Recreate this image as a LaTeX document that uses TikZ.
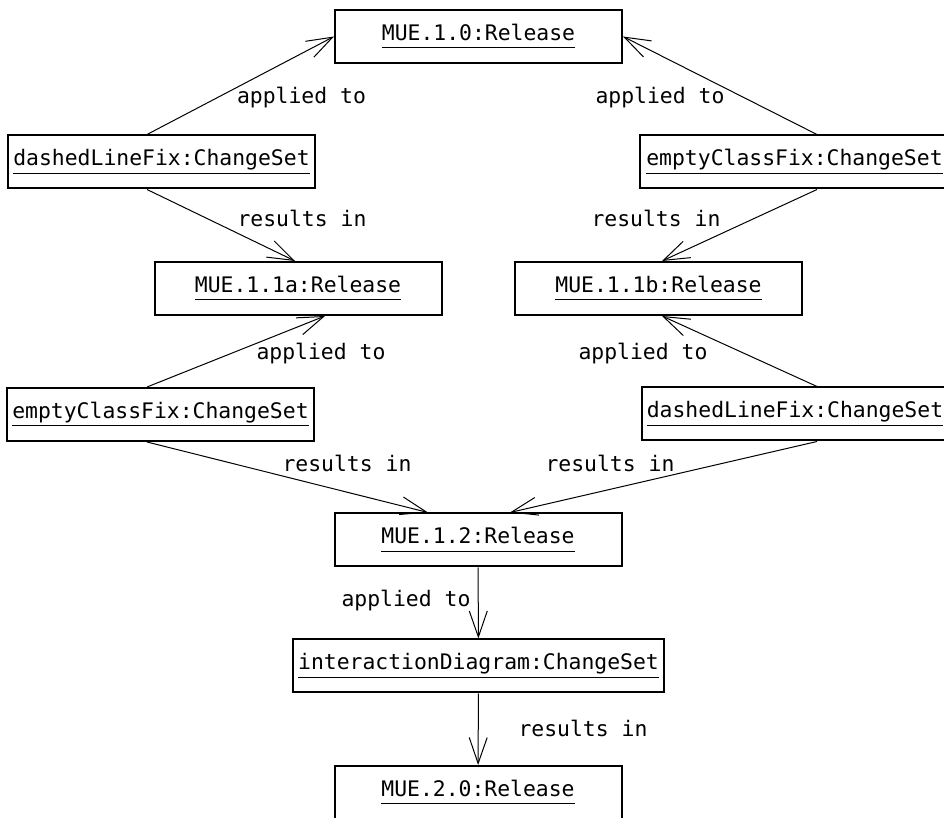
\documentclass[tikz,border=0pt]{standalone}
\usepackage{fontspec}
\newfontfamily\umlfont{DejaVu Sans Mono}
\usetikzlibrary{arrows.meta}
\newcommand{\objname}[1]{\underline{\vphantom{g}#1}}

\begin{document}
\begin{tikzpicture}[
x=0.5pt, y=-0.5pt,
obj/.style={draw, line width=1pt, minimum height=26.5pt, inner xsep=2.5pt, font=\umlfont\fontsize{10.7}{12}\selectfont},
release/.style={obj, minimum width=143.5pt},
lbl/.style={font=\umlfont\fontsize{10.7}{12}\selectfont, inner sep=0pt},
arrow/.style={-{Straight Barb[length=13pt, width=9pt]}, line width=0.5pt}
]
\clip (0,0) rectangle (944,818);

\node[release] (r10) at (478.5,36.5) {\objname{MUE.1.0:Release}};
\node[obj] (cdl1) at (161.5,162) {\objname{dashedLineFix:ChangeSet}};
\node[obj, minimum width=155pt] (cec1) at (794.5,162) {\objname{emptyClassFix:ChangeSet}};
\node[release] (r11a) at (298,288.5) {\objname{MUE.1.1a:Release}};
\node[release] (r11b) at (658.5,288.5) {\objname{MUE.1.1b:Release}};
\node[obj] (cec2) at (160.5,414.5) {\objname{emptyClassFix:ChangeSet}};
\node[obj] (cdl2) at (795,414) {\objname{dashedLineFix:ChangeSet}};
\node[release] (r12) at (478,540) {\objname{MUE.1.2:Release}};
\node[obj] (cid) at (478.5,666) {\objname{interactionDiagram:ChangeSet}};
\node[release] (r20) at (478,792.5) {\objname{MUE.2.0:Release}};

\node[lbl] (l1) at (301.5,98) {applied to};
\node[lbl] (l2) at (660,98) {applied to};
\node[lbl] (l3) at (302,218) {results in};
\node[lbl] (l4) at (656,218) {results in};
\node[lbl] (l5) at (321,354) {applied to};
\node[lbl] (l6) at (643,354) {applied to};
\node[lbl] (l7) at (347,463) {results in};
\node[lbl] (l8) at (610,463) {results in};
\node[lbl] (l9) at (406,601) {applied to};
\node[lbl] (l10) at (583,728) {results in};

\draw[arrow] ([xshift=-7.25pt]cdl1.north) -- (r10.west);
\draw[arrow] ([xshift=11.25pt]cec1.north) -- (r10.east);
\draw[arrow] ([xshift=-7.25pt]cdl1.south) -- ([xshift=-1.5pt]r11a.north);
\draw[arrow] ([xshift=11.25pt]cec1.south) -- ([xshift=1.75pt]r11b.north);
\draw[arrow] ([xshift=-6.75pt]cec2.north) -- ([xshift=13.5pt]r11a.south);
\draw[arrow] ([xshift=11pt]cdl2.north) -- ([xshift=1.75pt]r11b.south);
\draw[arrow] ([xshift=-6.75pt]cec2.south) -- ([xshift=-25pt]r12.north);
\draw[arrow] ([xshift=11pt]cdl2.south) -- ([xshift=16pt]r12.north);
\draw[arrow] (r12) -- (cid);
\draw[arrow] (cid) -- (r20);
\end{tikzpicture}
\end{document}
